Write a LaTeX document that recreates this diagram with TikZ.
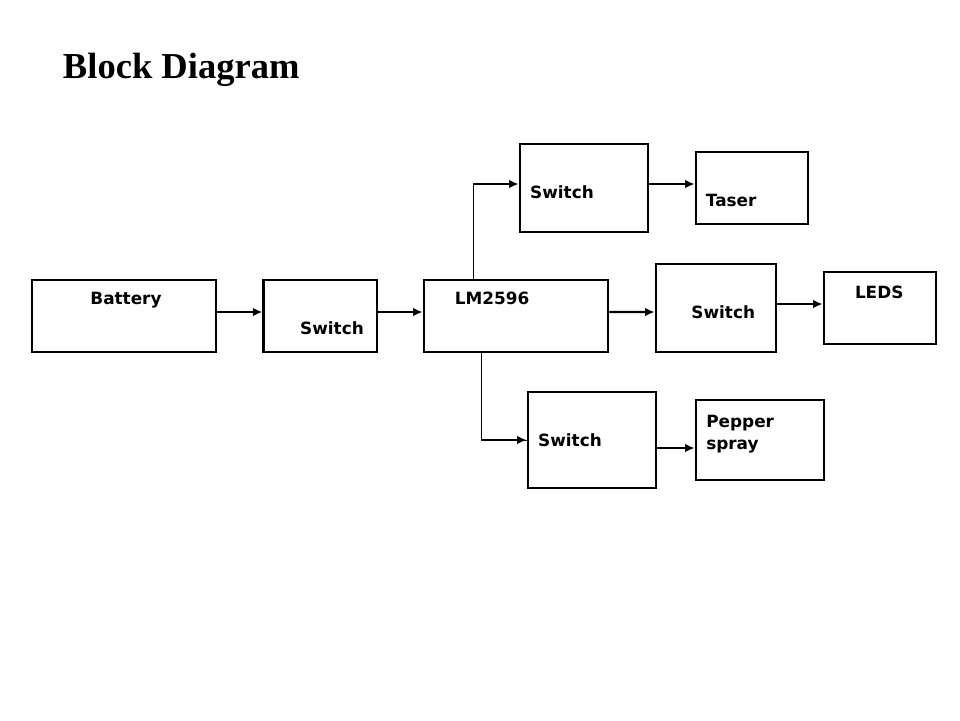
\documentclass[tikz,border=0pt]{standalone}
\usepackage{fontspec}
\setmainfont{DejaVu Sans}
\newfontfamily\titlefont{Liberation Serif}
\usetikzlibrary{arrows.meta}

\tikzset{
    blk/.style={draw, line width=2pt, inner sep=0pt},
    txt/.style={font=\bfseries\fontsize{12}{14}\selectfont, inner sep=0pt},
    arr/.style={line width=1.7pt, -{Latex[length=2.4mm, width=2.2mm]}}
}

\begin{document}
\begin{tikzpicture}
    \useasboundingbox (0,0) rectangle (24,-18);
    % Title
    \node[anchor=west, font=\titlefont\bfseries\fontsize{26}{30}\selectfont] (title) at (1.45,-1.75) {Block Diagram};
    % Main chain
    \node[blk, minimum width=4.6cm, minimum height=1.8cm] (bat) at (3.1,-7.9) {};
    \node[txt] at (3.15,-7.5) {Battery};
    \node[blk, minimum width=2.83cm, minimum height=1.8cm] (sw1) at (8.01,-7.9) {};
    \node[txt] at (8.3,-8.2) {Switch};
    \node[blk, minimum width=4.6cm, minimum height=1.8cm] (lm) at (12.9,-7.9) {};
    \node[txt] at (12.3,-7.45) {LM2596};
    % Upper branch
    \node[blk, minimum width=3.2cm, minimum height=2.2cm] (swtop) at (14.6,-4.7) {};
    \node[txt] at (14.05,-4.8) {Switch};
    \node[blk, minimum width=2.8cm, minimum height=1.8cm] (taser) at (18.8,-4.7) {};
    \node[txt] at (18.28,-5.0) {Taser};
    % Middle branch
    \node[blk, minimum width=3.0cm, minimum height=2.2cm] (swmid) at (17.9,-7.7) {};
    \node[txt] at (18.08,-7.8) {Switch};
    \node[blk, minimum width=2.8cm, minimum height=1.8cm] (leds) at (22.0,-7.7) {};
    \node[txt] at (21.98,-7.3) {LEDS};
    % Lower branch
    \node[blk, minimum width=3.2cm, minimum height=2.4cm] (swbot) at (14.8,-11.0) {};
    \node[txt] at (14.25,-11.0) {Switch};
    \node[blk, minimum width=3.2cm, minimum height=2.0cm] (pepper) at (19.0,-11.0) {};
    \node[txt, anchor=west, align=left] at (17.65,-10.85) {Pepper\\[2pt]spray};
    % Connectors
    \draw[arr] ([yshift=1mm]bat.east) -- ([yshift=1mm]sw1.west);
    \draw[arr] ([yshift=1mm]sw1.east) -- ([yshift=1mm]lm.west);
    \draw[arr] ([yshift=1mm]lm.east) -- ([yshift=-1mm]swmid.west);
    \draw[arr] ([yshift=1mm]swmid.east) -- ([yshift=1mm]leds.west);
    \draw[arr] ([yshift=1mm]swtop.east) -- ([yshift=1mm]taser.west);
    \draw[arr] ([yshift=-2mm]swbot.east) -- ([yshift=-2mm]pepper.west);
    % Branches off the regulator
    \coordinate (up) at ([xshift=-1.075cm]lm.north |- swtop.west);
    \draw[line width=0.7pt] ([xshift=-1.075cm]lm.north) -- ([yshift=1mm]up);
    \draw[arr] ([yshift=1mm]up) -- ([yshift=1mm]swtop.west);
    \draw[line width=0.7pt] ([xshift=-0.875cm]lm.south) |- (swbot.west);
    \draw[arr] ([xshift=-0.875cm]lm.south |- swbot.west) -- (swbot.west);
\end{tikzpicture}
\end{document}
